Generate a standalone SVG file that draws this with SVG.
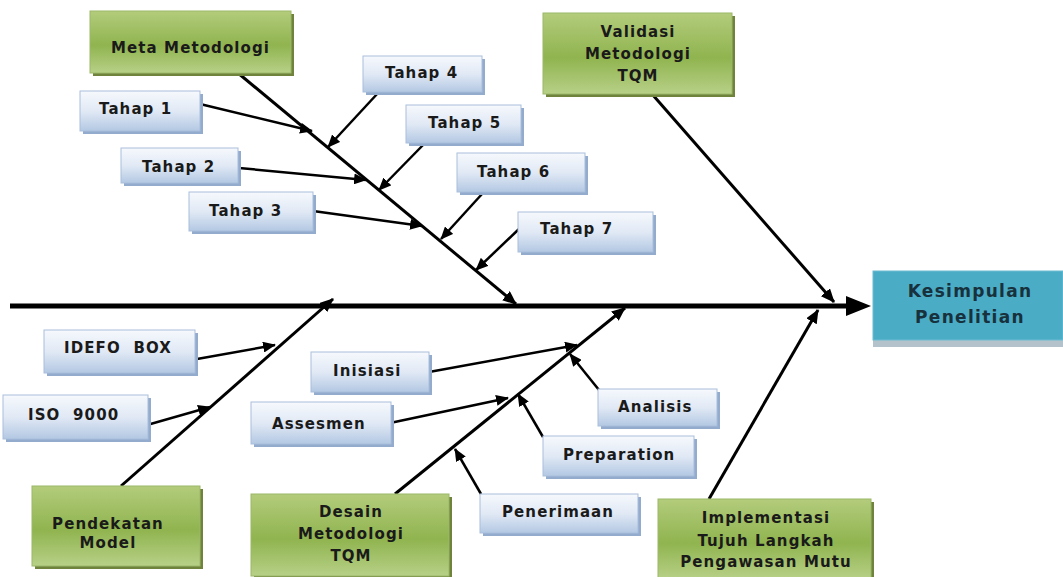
<svg xmlns="http://www.w3.org/2000/svg" width="1063" height="577" viewBox="0 0 1063 577">
<defs>
<linearGradient id="gBlue" x1="0" y1="0" x2="0" y2="1">
<stop offset="0" stop-color="#f6f9fd"/>
<stop offset="0.5" stop-color="#e1e9f5"/>
<stop offset="1" stop-color="#b3c8e3"/>
</linearGradient>
<linearGradient id="gGreen" x1="0" y1="0" x2="0" y2="1">
<stop offset="0" stop-color="#b3cc7c"/>
<stop offset="0.55" stop-color="#90b44f"/>
<stop offset="1" stop-color="#b7d087"/>
</linearGradient>
<marker id="ah" viewBox="0 0 14 12" markerWidth="14" markerHeight="12" refX="13" refY="6" orient="auto" markerUnits="userSpaceOnUse">
<path d="M0,0 L14,6 L0,12 z" fill="#000"/>
</marker>
<marker id="ahs" viewBox="0 0 14 12" markerWidth="13" markerHeight="11" refX="13" refY="6" orient="auto" markerUnits="userSpaceOnUse">
<path d="M0,0 L14,6 L0,12 z" fill="#000"/>
</marker>
</defs>
<style>
.bs{fill:#93abcc;}
.bb{fill:url(#gBlue);stroke:#a9bedb;stroke-width:1;}
.gs{fill:#6f833c;}
.gb{fill:url(#gGreen);stroke:#9bb868;stroke-width:1;}
text{font-family:"DejaVu Sans","Liberation Sans",sans-serif;font-weight:bold;font-size:15px;fill:#1a1a1a;letter-spacing:1.1px;}
.c{text-anchor:middle;}
.k{font-size:17px;fill:#17313d;letter-spacing:1.3px;}
.bone{stroke:#000;stroke-width:3;fill:none;marker-end:url(#ah);}
.sub{stroke:#000;stroke-width:2.5;fill:none;marker-end:url(#ahs);}
</style>
<rect width="1063" height="577" fill="#fff"/>

<g id="connectors">
<line x1="10" y1="306" x2="850" y2="306" stroke="#000" stroke-width="5"/>
<polygon points="846,296 871,306 846,316" fill="#000"/>
<line class="bone" x1="238" y1="73" x2="516" y2="304"/>
<line class="bone" x1="652" y1="94" x2="834" y2="302"/>
<line class="bone" x1="121" y1="486" x2="333" y2="299"/>
<line class="bone" x1="395" y1="494" x2="625" y2="308"/>
<line class="bone" x1="709" y1="499" x2="818" y2="310"/>
<line class="sub" x1="200" y1="104" x2="312" y2="131"/>
<line class="sub" x1="239" y1="168" x2="366" y2="180"/>
<line class="sub" x1="313" y1="211" x2="422" y2="226"/>
<line class="sub" x1="378" y1="93" x2="328" y2="147"/>
<line class="sub" x1="425" y1="143" x2="379" y2="190"/>
<line class="sub" x1="482" y1="194" x2="441" y2="239"/>
<line class="sub" x1="520" y1="228" x2="476" y2="270"/>
<line class="sub" x1="197" y1="359" x2="275" y2="345"/>
<line class="sub" x1="147" y1="425" x2="210" y2="407"/>
<line class="sub" x1="429" y1="372" x2="577" y2="345"/>
<line class="sub" x1="599" y1="390" x2="570" y2="354"/>
<line class="sub" x1="390" y1="423" x2="508" y2="398"/>
<line class="sub" x1="543" y1="437" x2="518" y2="394"/>
<line class="sub" x1="481" y1="494" x2="455" y2="449"/>
</g>

<g id="meta-metodologi">
<rect class="gs" x="93" y="14" width="201" height="62"/>
<rect class="gb" x="90" y="11" width="201" height="62"/>
<text x="111" y="53">Meta Metodologi</text>
</g>
<g id="validasi">
<rect class="gs" x="546" y="16" width="189" height="81"/>
<rect class="gb" x="543" y="13" width="189" height="81"/>
<text class="c" x="638" y="37">Validasi</text>
<text class="c" x="638" y="59">Metodologi</text>
<text class="c" x="638" y="81">TQM</text>
</g>
<g id="pendekatan-model">
<rect class="gs" x="35" y="489" width="168" height="80"/>
<rect class="gb" x="32" y="486" width="168" height="80"/>
<text class="c" x="108" y="529">Pendekatan</text>
<text class="c" x="108" y="548">Model</text>
</g>
<g id="desain">
<rect class="gs" x="254" y="497" width="198" height="82"/>
<rect class="gb" x="251" y="494" width="198" height="82"/>
<text class="c" x="351" y="517">Desain</text>
<text class="c" x="351" y="539">Metodologi</text>
<text class="c" x="351" y="561">TQM</text>
</g>
<g id="implementasi">
<rect class="gs" x="661" y="502" width="213" height="80"/>
<rect class="gb" x="658" y="499" width="213" height="80"/>
<text class="c" x="766" y="523">Implementasi</text>
<text class="c" x="766" y="546">Tujuh Langkah</text>
<text class="c" x="766" y="567">Pengawasan Mutu</text>
</g>

<g id="kesimpulan">
<rect x="873" y="339" width="190" height="8" fill="#b4c2cb"/>
<rect x="873" y="271" width="190" height="69" fill="#4bacc6" stroke="#6cbcd2" stroke-width="1"/>
<text class="c k" x="970" y="297">Kesimpulan</text>
<text class="c k" x="970" y="323">Penelitian</text>
</g>

<g id="tahap1"><rect class="bs" x="83" y="94" width="120" height="40"/><rect class="bb" x="80" y="91" width="120" height="40"/><text x="99" y="114">Tahap 1</text></g>
<g id="tahap2"><rect class="bs" x="124" y="151" width="117" height="35"/><rect class="bb" x="121" y="148" width="117" height="35"/><text x="142" y="172">Tahap 2</text></g>
<g id="tahap3"><rect class="bs" x="192" y="195" width="124" height="39"/><rect class="bb" x="189" y="192" width="124" height="39"/><text x="209" y="216">Tahap 3</text></g>
<g id="tahap4"><rect class="bs" x="366" y="59" width="119" height="36"/><rect class="bb" x="363" y="56" width="119" height="36"/><text x="385" y="78">Tahap 4</text></g>
<g id="tahap5"><rect class="bs" x="409" y="108" width="115" height="38"/><rect class="bb" x="406" y="105" width="115" height="38"/><text x="428" y="128">Tahap 5</text></g>
<g id="tahap6"><rect class="bs" x="460" y="156" width="128" height="39"/><rect class="bb" x="457" y="153" width="128" height="39"/><text x="477" y="177">Tahap 6</text></g>
<g id="tahap7"><rect class="bs" x="521" y="215" width="135" height="40"/><rect class="bb" x="518" y="212" width="135" height="40"/><text x="540" y="234">Tahap 7</text></g>
<g id="idefo"><rect class="bs" x="47" y="333" width="151" height="43"/><rect class="bb" x="44" y="330" width="151" height="43"/><text x="64" y="353" xml:space="preserve">IDEFO  BOX</text></g>
<g id="iso"><rect class="bs" x="6" y="398" width="145" height="44"/><rect class="bb" x="3" y="395" width="145" height="44"/><text x="28" y="420" xml:space="preserve">ISO  9000</text></g>
<g id="inisiasi"><rect class="bs" x="314" y="355" width="118" height="40"/><rect class="bb" x="311" y="352" width="118" height="40"/><text x="333" y="376">Inisiasi</text></g>
<g id="assesmen"><rect class="bs" x="254" y="405" width="140" height="42"/><rect class="bb" x="251" y="402" width="140" height="42"/><text x="272" y="429">Assesmen</text></g>
<g id="analisis"><rect class="bs" x="601" y="392" width="119" height="37"/><rect class="bb" x="598" y="389" width="119" height="37"/><text x="618" y="412">Analisis</text></g>
<g id="preparation"><rect class="bs" x="546" y="439" width="151" height="40"/><rect class="bb" x="543" y="436" width="151" height="40"/><text x="563" y="460">Preparation</text></g>
<g id="penerimaan"><rect class="bs" x="483" y="497" width="158" height="39"/><rect class="bb" x="480" y="494" width="158" height="39"/><text x="502" y="517">Penerimaan</text></g>
</svg>
